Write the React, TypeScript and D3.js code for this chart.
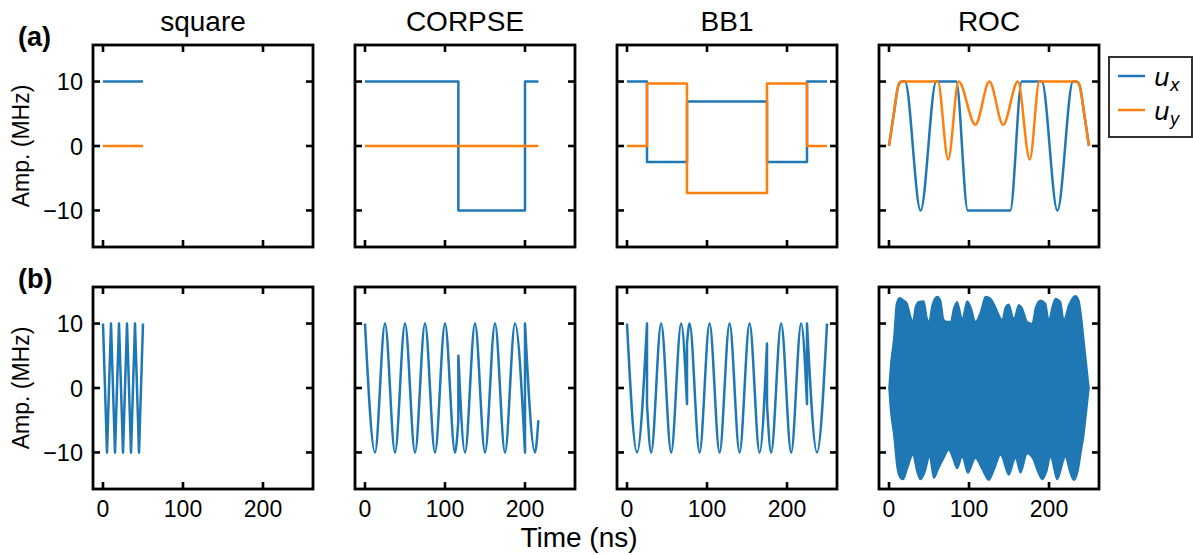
import React from 'react';
import * as d3 from 'd3';

// ---------- labels / ticks ----------
const panelTitles = ['square', 'CORPSE', 'BB1', 'ROC'];
const rowLabels = ['(a)', '(b)'];
const xTickValues = [0, 100, 200];
const yTickValues = [-10, 0, 10];
const xDomain = [-12.5, 262.5];
const yDomain = [-15.67, 15.67];

// ---------- (a) control amplitudes ----------
const squareT = [0, 50];
const squareUx = [10, 10];
const squareUy = [0, 0];

const corpseT = [0, 116.7, 200, 216.7];
const corpseUx = [10, -10, 10, 10];
const corpseUy = [0, 0, 0, 0];

const bb1T = [0, 25, 75, 175, 225, 250];
const bb1Ux = [10, -2.5, 6.9, -2.5, 10, 10];
const bb1Uy = [0, 9.7, -7.3, 9.7, 0, 0];

const rocUxT = [0, 6, 12, 16, 20, 39.5, 59, 84, 98.5, 151.5, 166, 191, 210.5, 230, 234, 238, 244, 250];
const rocUxV = [0, 5, 9.5, 10, 10, -10, 10, 10, -10, -10, 10, 10, -10, 10, 10, 9.5, 5, 0];
const rocUyT = [0, 6, 12, 16, 61, 74, 87, 108, 125.5, 142.7, 161, 176, 188, 234, 238, 244, 250];
const rocUyV = [0, 5, 9.5, 10, 10, -2.1, 10, 3.3, 10, 3.3, 10, -2.1, 10, 10, 9.5, 5, 0];

// ---------- (b) modulated signals (repeated time = jump) ----------
const squareSigT = [0, 5, 10, 15, 20, 25, 30, 35, 40, 45, 50];
const squareSigV = [10, -10, 10, -10, 10, -10, 10, -10, 10, -10, 10];

const corpseSigT = [0, 12.5, 25, 37.5, 50, 62.5, 75, 87.5, 100, 112.5, 116.7,
  116.7, 125, 137.5, 150, 162.5, 175, 187.5, 200,
  200, 212.5, 216.7];
const corpseSigV = [10, -10, 10, -10, 10, -10, 10, -10, 10, -10, -5,
  5, -10, 10, -10, 10, -10, 10, -10,
  10, -10, -5];

const bb1SigT = [0, 12.5, 25,
  25, 30.2, 42.7, 55.2, 67.7, 75,
  75, 78.2, 90.7, 103.2, 115.7, 128.2, 140.7, 153.2, 165.7, 175,
  175, 180.2, 192.7, 205.2, 217.7, 225,
  225, 237.5, 250];
const bb1SigV = [10, -10, 10,
  -2.5, -10, 10, -10, 10, -2.5,
  6.9, 10, -10, 10, -10, 10, -10, 10, -10, 6.9,
  -2.5, -10, 10, -10, 10, -2.5,
  10, -10, 10];

const rocEnvUpT = [0, 2, 6, 9.4, 13.5, 18.5, 22.7, 27.7, 29.8, 33, 37.3, 43.5, 47.7, 49.8, 54, 60.2, 64.4, 68.5, 72.7, 76.9, 81, 85.2, 91.5, 97.7, 102.7, 108, 114.4, 120.6, 126.9, 133, 141.5, 145.6, 149.8, 156, 162.3, 166.5, 172.7, 179, 183, 189.4, 195.6, 199.8, 204, 208.1, 214.4, 218.5, 224.8, 233, 237.3, 241, 244, 247, 250];
const rocEnvUpV = [0, 3.5, 7.7, 13.1, 14.0, 13.6, 13.1, 10.8, 10.3, 12.6, 13.4, 13.5, 10.8, 10.3, 12.9, 14.2, 13.6, 10.6, 10.3, 10.3, 12.4, 13.4, 10.8, 13.5, 12.4, 10.3, 11.8, 14.2, 13.9, 12.6, 10.6, 12.6, 13.0, 10.8, 12.9, 12.4, 10.3, 10.0, 12.4, 13.6, 13.1, 10.6, 12.6, 13.9, 13.4, 10.6, 12.9, 14.3, 13.6, 10.5, 7, 3.5, 0];
const rocEnvLoT = [0, 2, 6, 10.3, 14.4, 17.7, 23, 29.8, 35, 39.4, 45, 50.6, 56, 62, 68, 74.8, 80, 85.2, 91.5, 98.5, 108, 116, 124.8, 132, 139.4, 149.8, 158.1, 164.4, 172.7, 180, 186, 191.5, 197, 201.9, 210.2, 220.6, 226, 231, 236, 240, 243.5, 247, 250];
const rocEnvLoV = [0, -3.5, -7.3, -12.5, -14, -14.2, -12.5, -10.4, -13, -14.2, -13, -10.7, -14, -12.5, -11, -9.6, -11, -12.5, -10.7, -13.2, -10.9, -12.5, -14.3, -12.5, -10.4, -13.5, -10.9, -13.2, -10.2, -11, -13, -14.2, -13, -10.7, -14.2, -10.7, -13, -14.3, -13, -10, -7.3, -3.5, 0];

const legendLabels = ['x', 'y'];

export default function App() {
  const W = 1193, H = 555;
  const colLeft = [93, 355, 617, 879];
  const rowTop = [45, 287];
  const pw = 220, ph = 202;
  const blue = '#1f77b4', orange = '#ff7f0e';
  const font = '"Liberation Sans", Arial, Helvetica, sans-serif';
  const tickLen = 7;

  const xs = colLeft.map(l => d3.scaleLinear().domain(xDomain).range([l, l + pw]));
  const ys = rowTop.map(t => d3.scaleLinear().domain(yDomain).range([t + ph, t]));

  const simplePath = (c: number, r: number, T: number[], V: number[], curve: any) =>
    d3.line<number>().x(i => xs[c](T[i])).y(i => ys[r](V[i])).curve(curve)(T.map((_, i) => i)) || '';

  const segmentedPath = (c: number, r: number, T: number[], V: number[]) => {
    const segs: number[][][] = [];
    let cur: number[][] = [];
    T.forEach((t, i) => {
      if (i > 0 && t === T[i - 1]) { segs.push(cur); cur = []; }
      cur.push([t, V[i]]);
    });
    segs.push(cur);
    const line = d3.line<number[]>().x(d => xs[c](d[0])).y(d => ys[r](d[1])).curve(d3.curveMonotoneX);
    return segs.map((s, i) => { const p = line(s) || ''; return i === 0 ? p : 'L' + p.slice(1); }).join('');
  };

  const areaPath = (c: number, r: number, T: number[], V: number[]) =>
    d3.area<number>().x(i => xs[c](T[i])).y0(() => ys[r](0)).y1(i => ys[r](V[i])).curve(d3.curveMonotoneX)(T.map((_, i) => i)) || '';

  const lw = 2.5;
  const lines: { d: string; color: string }[] = [
    { d: simplePath(0, 0, squareT, squareUx, d3.curveLinear), color: blue },
    { d: simplePath(0, 0, squareT, squareUy, d3.curveLinear), color: orange },
    { d: simplePath(1, 0, corpseT, corpseUx, d3.curveStepAfter), color: blue },
    { d: simplePath(1, 0, corpseT, corpseUy, d3.curveStepAfter), color: orange },
    { d: simplePath(2, 0, bb1T, bb1Ux, d3.curveStepAfter), color: blue },
    { d: simplePath(2, 0, bb1T, bb1Uy, d3.curveStepAfter), color: orange },
    { d: simplePath(3, 0, rocUxT, rocUxV, d3.curveMonotoneX), color: blue },
    { d: simplePath(3, 0, rocUyT, rocUyV, d3.curveMonotoneX), color: orange },
    { d: simplePath(0, 1, squareSigT, squareSigV, d3.curveLinear), color: blue },
    { d: segmentedPath(1, 1, corpseSigT, corpseSigV), color: blue },
    { d: segmentedPath(2, 1, bb1SigT, bb1SigV), color: blue },
  ];

  const panels: { c: number; r: number }[] = [];
  for (let r = 0; r < 2; r++) for (let c = 0; c < 4; c++) panels.push({ c, r });

  return (
    <svg width={W} height={H} style={{ position: 'absolute', left: 0, top: 0, background: '#fff' }}
      fontFamily={font}>
      {/* ROC envelope */}
      <path d={areaPath(3, 1, rocEnvUpT, rocEnvUpV)} fill={blue} stroke={blue} strokeWidth={1.5} />
      <path d={areaPath(3, 1, rocEnvLoT, rocEnvLoV)} fill={blue} stroke={blue} strokeWidth={1.5} />
      {lines.map((l, i) => (
        <path key={i} d={l.d} fill="none" stroke={l.color} strokeWidth={lw} strokeLinejoin="round" />
      ))}
      {panels.map(({ c, r }) => {
        const x = xs[c], y = ys[r];
        const L = colLeft[c], T = rowTop[r];
        return (
          <g key={`p${c}${r}`}>
            <rect x={L} y={T} width={pw} height={ph} fill="none" stroke="#000" strokeWidth={2.8} />
            {xTickValues.map(v => (
              <g key={`xt${v}`}>
                <line x1={x(v)} x2={x(v)} y1={T + ph} y2={T + ph - tickLen} stroke="#000" strokeWidth={2.6} />
                <line x1={x(v)} x2={x(v)} y1={T} y2={T + tickLen} stroke="#000" strokeWidth={2.6} />
              </g>
            ))}
            {yTickValues.map(v => (
              <g key={`yt${v}`}>
                <line x1={L} x2={L + tickLen} y1={y(v)} y2={y(v)} stroke="#000" strokeWidth={2.6} />
                <line x1={L + pw} x2={L + pw - tickLen} y1={y(v)} y2={y(v)} stroke="#000" strokeWidth={2.6} />
              </g>
            ))}
            {c === 0 && yTickValues.map(v => (
              <text key={`yl${v}`} x={L - 10} y={y(v) + 8.5} textAnchor="end" fontSize={23.5}>
                {v < 0 ? '\u2212' + Math.abs(v) : String(v)}
              </text>
            ))}
            {r === 1 && xTickValues.map(v => (
              <text key={`xl${v}`} x={x(v)} y={517} textAnchor="middle" fontSize={23}>{v}</text>
            ))}
            {r === 0 && (
              <text x={L + pw / 2} y={31} textAnchor="middle" fontSize={28}>{panelTitles[c]}</text>
            )}
            {c === 0 && (
              <text transform={`translate(29,${T + ph / 2}) rotate(-90)`} textAnchor="middle" fontSize={23}>
                Amp. (MHz)
              </text>
            )}
          </g>
        );
      })}
      {rowLabels.map((t, r) => (
        <text key={t} x={18} y={rowTop[r] + 1} fontSize={27} fontWeight="bold">{t}</text>
      ))}
      <text x={579} y={547} textAnchor="middle" fontSize={28}>Time (ns)</text>
      {/* legend */}
      <rect x={1109} y={57} width={83} height={80} fill="#fff" stroke="#333" strokeWidth={2} />
      {legendLabels.map((s, i) => (
        <g key={s}>
          <line x1={1118} x2={1145} y1={76 + i * 34} y2={76 + i * 34} stroke={i === 0 ? blue : orange} strokeWidth={lw} />
          <text x={1154} y={86 + i * 34} fontSize={25} fontFamily='"DejaVu Sans", sans-serif' fontStyle="italic">
            u<tspan fontSize={17} dy={5}>{s}</tspan>
          </text>
        </g>
      ))}
    </svg>
  );
}
